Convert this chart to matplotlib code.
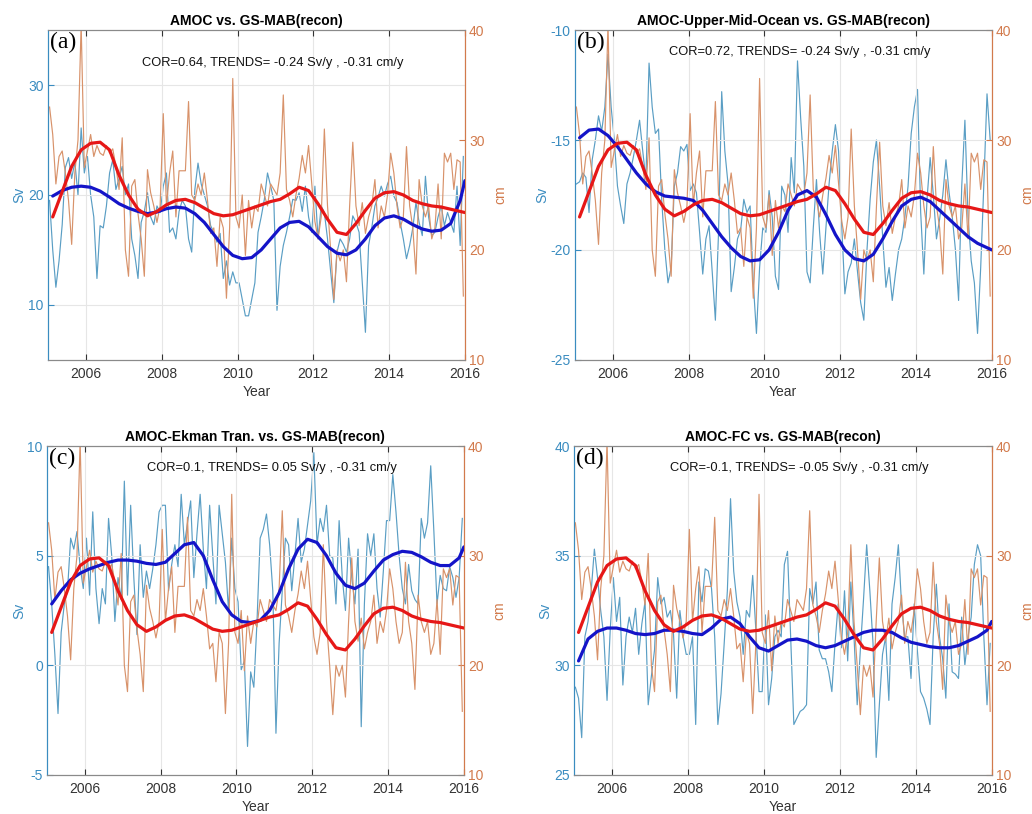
import numpy as np
import matplotlib
matplotlib.use("Agg")
import matplotlib.pyplot as plt

# monthly samples (mid-month), Jan 2005 - Dec 2015
months = 2005 + (np.arange(132) + 0.5) / 12
# low-pass curves read every quarter
smooth_t = list(2005.125 + 0.25 * np.arange(44)) + [2016.0]

# GS-MAB reconstruction (cm), same in every panel
gs_mab = [33, 30.5, 26, 28.5, 29, 27, 24.5, 20.5, 27, 30, 40.5, 27.5,
          29, 30.5, 28.5, 29.5, 28.8, 28.6, 29.5, 28.8, 29.2, 27.6, 25.5, 30.2,
          20, 17.6, 25.8, 26.4, 23.3, 21, 17.6, 27.3, 25.2, 24, 22.5, 24,
          32.4, 24, 27, 29, 23, 27.2, 27.2, 27.2, 33.5, 25, 24.5, 26,
          25, 27, 24.5, 21.5, 22, 18.5, 23, 22, 15.6, 22, 35.6, 23,
          22, 25, 19.5, 24.5, 22, 24, 23.5, 26, 25, 24, 26, 25.5,
          25, 27, 34.1, 25.5, 24.5, 23, 25, 26.5, 28.6, 27, 29.5, 26,
          22.6, 21, 23, 31, 24, 20, 15.5, 20, 19, 20, 17.1, 24,
          29.8, 24, 22.2, 24.3, 21.5, 23, 24, 26.4, 22, 24, 23, 25,
          28.8, 27, 24, 22, 23, 29.4, 24, 22, 17.8, 26.4, 24, 23,
          24, 21, 22, 26, 21, 28.8, 28, 28.8, 25.5, 28.2, 28, 15.8]
gs_mab_smooth = [23, 25.3, 27.6, 29.1, 29.7, 29.8, 29.1, 26.8, 25.0, 23.7, 23.1, 23.5,
                 24.1, 24.5, 24.6, 24.3, 23.8, 23.3, 23.1, 23.2, 23.5, 23.8, 24.1, 24.4,
                 24.6, 25.1, 25.7, 25.4, 24.2, 22.8, 21.6, 21.4, 22.4, 23.6, 24.7, 25.2,
                 25.3, 25.0, 24.5, 24.2, 24.0, 23.9, 23.7, 23.5, 23.4]

# AMOC (Sv)
amoc = [19.5, 15, 11.6, 14, 17.3, 22.5, 23.4, 21.5, 23, 20, 26.1, 22,
        23.5, 20, 18, 12.4, 17.2, 17, 19, 22, 23.2, 20.5, 21.5, 22.6,
        20, 21, 16, 14.5, 12.4, 17.5, 18.5, 20.2, 18, 17.3, 19, 18.4,
        20.8, 22, 16.6, 17, 16, 18.5, 19.5, 19, 16, 14.8, 20.5, 22.9,
        21, 20, 19, 17.2, 16.6, 15.7, 16.5, 12.4, 14, 11.8, 13, 12,
        12, 10.5, 9.0, 9.0, 10.5, 12, 16.6, 18, 19.6, 22, 20.8, 19.5,
        9.5, 13.5, 15.4, 16.6, 18, 19.6, 19.5, 20.2, 18.5, 20.8, 18, 16.6,
        20.8, 16, 19, 18.4, 16, 13, 10.2, 14.8, 16, 15.5, 14.8, 16,
        18.1, 17.5, 16.6, 12, 7.5, 15.4, 17, 19, 19.8, 20.8, 19.9, 21,
        21.7, 19.9, 19.3, 17.5, 16, 14.2, 15.4, 17, 19.3, 17.5, 16.3, 21.7,
        18, 16.3, 16.6, 18, 19, 17.2, 18.4, 17.5, 16.6, 20.8, 15.4, 23.5]
amoc_smooth = [19.9, 20.4, 20.7, 20.8, 20.7, 20.35, 19.8, 19.2, 18.8, 18.5, 18.3, 18.45,
               18.75, 18.9, 18.8, 18.3, 17.5, 16.4, 15.3, 14.5, 14.2, 14.3, 15.0, 16.0,
               17.0, 17.5, 17.6, 17.1, 16.2, 15.3, 14.7, 14.55, 15.0, 16.0, 17.2, 17.9,
               18.1, 17.8, 17.3, 16.9, 16.7, 16.8, 17.4, 19.5, 21.3]

# AMOC upper mid-ocean (Sv)
umo = [-17, -16.9, -16.5, -16.7, -18.3, -15.9, -15, -13.9, -14.6, -13.5, -11.1, -13.5,
       -15, -17.1, -18.0, -18.8, -17, -16.5, -15.8, -15, -14.1, -15.5, -16.8, -11.5,
       -13.5, -14.7, -14.5, -17.7, -20, -21.5, -20.8, -17.1, -16.5, -15.3, -15.5, -15.2,
       -17.3, -17.0, -17.4, -19.2, -21.1, -19.5, -18.9, -21, -23.2, -19.2, -12.8, -15.5,
       -17, -21.9, -20.8, -19.5, -19.1, -17.7, -18.3, -18.0, -21.5, -23.8, -20.8, -19,
       -19.2, -17.3, -18.5, -21.2, -21.8, -17.1, -17.5, -19.2, -15.8, -17.4, -11.4, -14,
       -16.2, -21, -21.5, -19, -16.8, -19.2, -21.1, -19, -17, -15.5, -14.3, -15.5,
       -18.9, -22, -21, -20.6, -19.5, -21, -22.4, -23.2, -20, -17.7, -16, -15,
       -17.1, -19.5, -21.7, -20.8, -22.3, -21.1, -20, -19.5, -18.5, -17.1, -14.7, -13.5,
       -12.7, -18.3, -21.1, -17.7, -15.8, -17.5, -19.5, -18.6, -17.5, -15.9, -17.4, -18.5,
       -20, -22.3, -17.1, -14.1, -18.5, -20.5, -21.5, -23.8, -20.8, -17, -12.9, -15]
umo_smooth = [-14.9, -14.55, -14.5, -14.8, -15.3, -15.9, -16.5, -17.0, -17.35, -17.55, -17.6, -17.65,
              -17.75, -18.2, -18.8, -19.4, -19.9, -20.3, -20.5, -20.45, -20.0, -19.2, -18.2, -17.5,
              -17.3, -17.6, -18.4, -19.3, -20.0, -20.4, -20.5, -20.2, -19.5, -18.7, -18.0, -17.7,
              -17.6, -17.8, -18.2, -18.6, -19.0, -19.4, -19.7, -19.9, -20.0]

# AMOC Ekman transport (Sv)
ekman = [4.5, 2.8, 0.5, -2.2, 1.5, 2.8, 3.4, 5.8, 5.3, 6.1, 4.5, 3.5,
         5.8, 3.2, 7, 3.5, 1.9, 3.5, 2.8, 6.7, 5, 2.0, 4, 3,
         8.4, 3.2, 7.3, 4, 1.4, 5.5, 3.1, 4.3, 3.5, 4.4, 5.5, 7,
         7.3, 7.3, 3.4, 4.6, 5.5, 4.5, 7.8, 5.5, 6.5, 7.5, 4, 6,
         7.8, 5.3, 3.5, 7.3, 5, 2.8, 7.3, 6, 4.7, 2.5, 5.8, 3.5,
         2.9, -0.2, 0.2, -3.7, -0.3, -1, 2, 5.8, 6.2, 6.9, 5.5, 3.4,
         -3.1, 1, 3.4, 5.8, 5.5, 3.4, 5, 6.7, 4.7, 5.3, 6.4, 7.5,
         9.7, 5.5, 6.7, 6.1, 7.3, 5, 4.9, 2.8, 6.6, 4, 2.5, 5.8,
         4, 2.8, 5.3, -2.8, 2.8, 6, 5, 6, 3.5, 2.2, 4.3, 6.6,
         6.6, 8.7, 7, 5, 3.5, 2.8, 4.6, 3.4, 3, 2.8, 6.7, 5.8,
         6.5, 9.1, 6.1, 2.8, 4.1, 3.5, 3.4, 4.5, 4, 3.1, 4, 6.7]
ekman_smooth = [2.8, 3.4, 3.9, 4.2, 4.4, 4.55, 4.7, 4.8, 4.8, 4.75, 4.65, 4.6,
                4.7, 5.1, 5.5, 5.6, 5.0, 3.9, 2.9, 2.3, 2.0, 1.95, 2.05, 2.5,
                3.3, 4.4, 5.3, 5.75, 5.6, 5.0, 4.2, 3.65, 3.5, 3.75, 4.3, 4.8,
                5.05, 5.2, 5.15, 4.95, 4.7, 4.55, 4.55, 4.9, 5.4]

# AMOC Florida Current (Sv)
fc = [29, 28.5, 26.7, 31.3, 32, 33.4, 35.3, 34, 32.5, 31.3, 28.4, 31.6,
      34, 32, 33.1, 29.1, 31.3, 32.2, 31.5, 32.6, 30.5, 31.9, 32.9, 28.2,
      29.5, 30.7, 34, 32.8, 33.1, 32.2, 32.5, 31.4, 28.5, 32.5, 31.3, 30.5,
      30.5, 31.3, 27.3, 33.8, 32.9, 34.4, 34.3, 33.5, 31.3, 27.3, 28.7, 31,
      33.4, 37.6, 34.3, 32.9, 32.2, 30.5, 32.5, 32.2, 34.1, 31.6, 28.8, 28.8,
      32.3, 28.2, 29.4, 31.3, 31.6, 31.3, 34.6, 35.2, 31.3, 27.3, 27.6, 27.9,
      28, 28.2, 33.5, 32.8, 33.8, 30.7, 30.3, 30.3, 29.7, 28.8, 31, 32.8,
      30.8, 33.4, 30.2, 33.8, 31.3, 28.2, 30.7, 33, 35.5, 33.4, 31, 25.8,
      28.2, 30.5, 31.3, 28.4, 32.8, 34, 35.5, 32.8, 31.3, 31.3, 29.4, 32.8,
      30.7, 28.8, 28.5, 28, 27.3, 31.3, 33.7, 31.3, 30.3, 28.5, 32.8, 29.7,
      29.6, 29.4, 32.2, 30, 31.3, 32.2, 34.6, 35.5, 35, 31.3, 28.2, 31]
fc_smooth = [30.2, 31.2, 31.55, 31.7, 31.7, 31.6, 31.45, 31.4, 31.45, 31.6, 31.6, 31.55,
             31.45, 31.4, 31.7, 32.1, 32.2, 31.9, 31.3, 30.8, 30.65, 30.9, 31.15, 31.2,
             31.1, 30.9, 30.8, 30.9, 31.1, 31.3, 31.5, 31.6, 31.6, 31.5, 31.25, 31.05,
             30.95, 30.85, 30.8, 30.8, 30.9, 31.1, 31.3, 31.6, 32.0]

titles = ["AMOC vs. GS-MAB(recon)", "AMOC-Upper-Mid-Ocean vs. GS-MAB(recon)",
          "AMOC-Ekman Tran. vs. GS-MAB(recon)", "AMOC-FC vs. GS-MAB(recon)"]
stats = ["COR=0.64, TRENDS= -0.24 Sv/y , -0.31 cm/y",
         "COR=0.72, TRENDS= -0.24 Sv/y , -0.31 cm/y",
         "COR=0.1, TRENDS= 0.05 Sv/y , -0.31 cm/y",
         "COR=-0.1, TRENDS= -0.05 Sv/y , -0.31 cm/y"]
letters = ["(a)", "(b)", "(c)", "(d)"]
sv_series = [amoc, umo, ekman, fc]
sv_smooth = [amoc_smooth, umo_smooth, ekman_smooth, fc_smooth]
sv_limits = [(5, 35), (-25, -10), (-5, 10), (25, 40)]
sv_ticks = [[10, 20, 30], [-25, -20, -15, -10], [-5, 0, 5, 10], [25, 30, 35, 40]]
year_ticks = [2006, 2008, 2010, 2012, 2014, 2016]
cm_ticks = [10, 20, 30, 40]

blue_thin = "#5a9ec4"
orange_thin = "#d8926a"
blue_axis = "#3a8cc0"
orange_axis = "#d27a4c"
frame_gray = "#8a8a8a"

plt.rcParams["font.family"] = ["Liberation Sans", "DejaVu Sans"]
plt.rcParams["axes.unicode_minus"] = False

positions = [[0.0465, 0.558, 0.404, 0.405], [0.557, 0.558, 0.404, 0.405],
             [0.0455, 0.048, 0.404, 0.404], [0.556, 0.048, 0.405, 0.404]]
stat_y = [0.90, 0.934, 0.933, 0.933]


def draw_panel(fig, k):
    ax = fig.add_axes(positions[k])
    ax2 = ax.twinx()

    ax.plot(months, sv_series[k], color=blue_thin, lw=0.85, zorder=1)
    ax2.plot(months, gs_mab, color=orange_thin, lw=0.85, zorder=2)
    ax2.plot(smooth_t, sv_smooth[k], color="#1414c8", lw=2.3, zorder=3,
             transform=ax.transData, solid_capstyle="round")
    ax2.plot(smooth_t, gs_mab_smooth, color="#e61717", lw=2.3, zorder=4,
             solid_capstyle="round")

    ax.set_xlim(2005, 2016)
    ax.set_ylim(*sv_limits[k])
    ax2.set_ylim(10, 40)
    ax.set_xticks(year_ticks)
    ax.set_yticks(sv_ticks[k])
    ax2.set_yticks(cm_ticks)

    ax.grid(True, color="#e6e6e6", lw=0.8)
    ax.tick_params(axis="x", direction="in", top=True, length=4,
                   labelsize=10, colors="#333333", pad=5)
    ax.tick_params(axis="y", direction="in", length=4, labelsize=10,
                   colors=blue_axis, pad=3)
    ax2.tick_params(axis="y", direction="in", length=4, labelsize=10,
                    colors=orange_axis, pad=3)

    for a in (ax, ax2):
        a.spines["top"].set_color(frame_gray)
        a.spines["bottom"].set_color(frame_gray)
        a.spines["left"].set_color(blue_axis)
        a.spines["right"].set_color(orange_axis)

    ax.set_xlabel("Year", fontsize=10, color="#333333", labelpad=3)
    ax.set_ylabel("Sv", fontsize=10, color=blue_axis, labelpad=1)
    ax2.set_ylabel("cm", fontsize=10, color=orange_axis, labelpad=6)
    ax.set_title(titles[k], fontsize=10, fontweight="bold", pad=4)

    ax2.text(0.54, stat_y[k], stats[k], transform=ax.transAxes,
             ha="center", va="center", fontsize=9.3, color="#111111")
    ax2.text(0.006, 0.995, letters[k], transform=ax.transAxes,
             ha="left", va="top", fontsize=17,
             family=["Liberation Serif", "DejaVu Serif"], color="black")


if __name__ == "__main__":
    fig = plt.figure(figsize=(10.32, 8.14), dpi=100)
    for k in range(4):
        draw_panel(fig, k)
    fig.savefig("out.png", dpi=100, facecolor="white")
